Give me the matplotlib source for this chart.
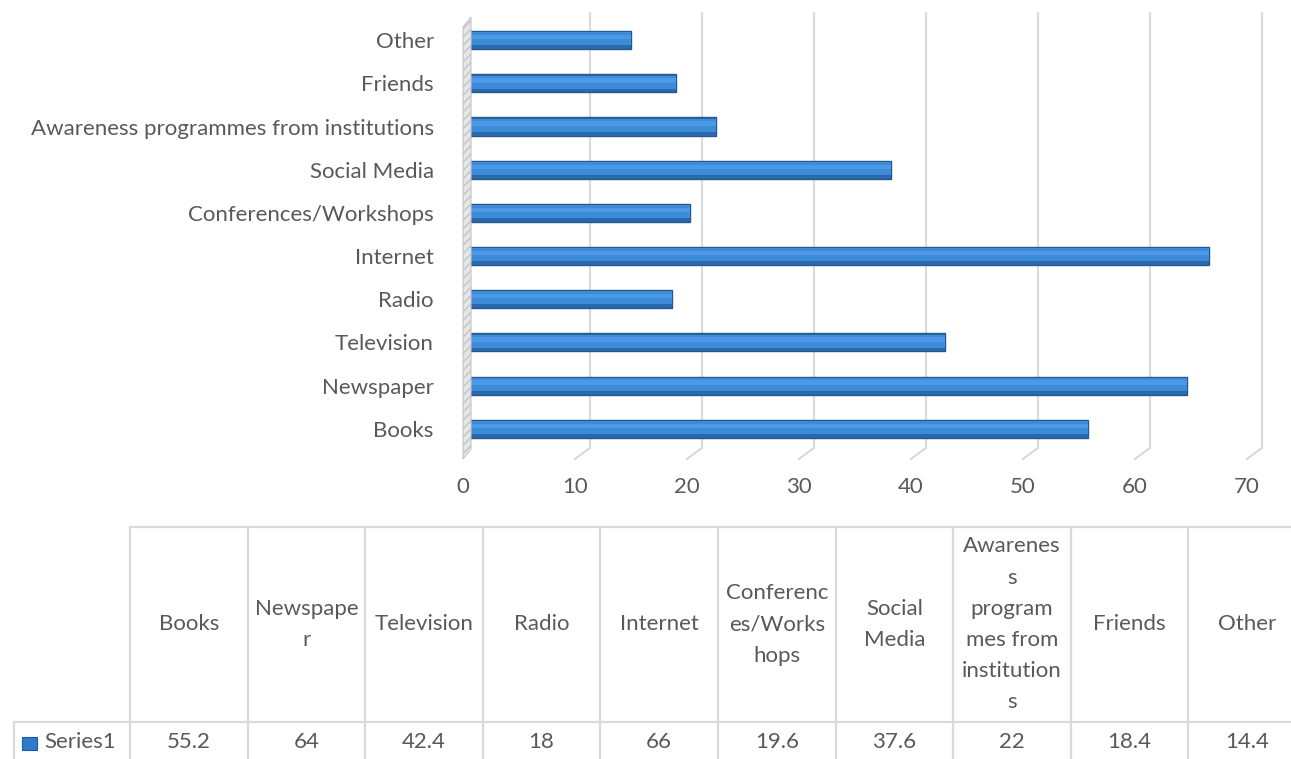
import matplotlib.pyplot as plt
import matplotlib.transforms as mtransforms
from matplotlib.patches import Rectangle, Polygon
from matplotlib.lines import Line2D

plt.rcParams['font.family'] = ['Lato', 'DejaVu Sans']

# data
categories = ["Books", "Newspaper", "Television", "Radio", "Internet",
              "Conferences/Workshops", "Social Media",
              "Awareness programmes from institutions", "Friends", "Other"]
values = [55.2, 64, 42.4, 18, 66, 19.6, 37.6, 22, 18.4, 14.4]
values_text = ["55.2", "64", "42.4", "18", "66", "19.6", "37.6", "22", "18.4", "14.4"]
table_headers = ["Books", "Newspape\nr", "Television", "Radio", "Internet",
                 "Conferenc\nes/Works\nhops", "Social\nMedia",
                 "Awarenes\ns\nprogram\nmes from\ninstitution\ns", "Friends", "Other"]
series_name = "Series1"
xticks = [0, 10, 20, 30, 40, 50, 60, 70]

W, H = 1291, 759
DPI = 100
fig = plt.figure(figsize=(W / DPI, H / DPI), dpi=DPI)
txt = "#595959"
grid_c = "#d9d9d9"
FS = 16


def fx(px):
    return px / W


def fy(py):
    return 1 - py / H


# chart area, pixel layout
x0_px, x70_px = 463, 1247
y_top_px, y_bot_px = 13, 459
ax = fig.add_axes([fx(x0_px), fy(y_bot_px), fx(x70_px - x0_px), (y_bot_px - y_top_px) / H])
ax.set_xlim(0, 70)
ax.set_ylim(-0.7, 9.63)
for s in ax.spines.values():
    s.set_visible(False)
ax.set_facecolor("none")

depth = 15 / DPI  # back plane offset in inches
back = ax.transData + mtransforms.ScaledTranslation(depth, 0, fig.dpi_scale_trans)
mid = ax.transData + mtransforms.ScaledTranslation(7 / DPI, 0, fig.dpi_scale_trans)

# back-wall gridlines with the little diagonal floor segments
for t in xticks:
    if t == 0:
        continue
    ax.add_line(Line2D([t, t], [0.025, 1.0], color=grid_c, lw=1.5, clip_on=False,
                       transform=mtransforms.blended_transform_factory(back, ax.transAxes)))
    p0 = ax.transData.transform((t, 0))
    p1 = back.transform((t, 0))
    y_lo = ax.transAxes.transform((0, 0.0))[1]
    y_hi = ax.transAxes.transform((0, 0.025))[1]
    fig.add_artist(Line2D([p0[0], p1[0]], [y_lo, y_hi], color=grid_c, lw=1.5,
                          transform=None))

# left wall
wall_l = ax.transData.transform((0, 0))[0]
ya = ax.transAxes.transform((0, 0.0))[1]
yb = ax.transAxes.transform((0, 1.0))[1]
wall = Polygon([(wall_l, ya), (wall_l + 8, ya + 10), (wall_l + 8, yb - 4), (wall_l, yb - 14)],
               closed=True, facecolor="#e6e6e6", edgecolor="#c4c4c4", lw=0.8,
               hatch="////", transform=None)
fig.add_artist(wall)

# bars: dark body + lighter face + top highlight
ypos = list(range(len(categories)))
ax.barh(ypos, values, height=0.42, color="#2a69ad", edgecolor="#23598f",
        linewidth=1, transform=mid, zorder=3)
ax.barh([y + 0.03 for y in ypos], values, height=0.3, color="#3d8bd9",
        linewidth=0, transform=mid, zorder=4)
ax.barh([y + 0.07 for y in ypos], values, height=0.1, color="#4c9ae6",
        linewidth=0, transform=mid, zorder=5)

ax.set_yticks(ypos)
ax.set_yticklabels(categories)
ax.set_xticks(xticks)
ax.set_xticklabels([str(t) for t in xticks])
ax.tick_params(axis="y", length=0, pad=21, labelsize=FS, labelcolor=txt)
ax.tick_params(axis="x", length=0, pad=13, labelsize=FS, labelcolor=txt)

# data table below the chart
col_l = 130
col_w = 117.6
row_top, row_mid, row_bot = 527, 722, 762
lw_t = 1.6
ncol = len(categories)
right = col_l + ncol * col_w
fig.add_artist(Line2D([fx(col_l), fx(right)], [fy(row_top)] * 2, color=grid_c, lw=lw_t))
fig.add_artist(Line2D([fx(14), fx(right)], [fy(row_mid)] * 2, color=grid_c, lw=lw_t))
fig.add_artist(Line2D([fx(14), fx(14)], [fy(row_mid), fy(row_bot)], color=grid_c, lw=lw_t))
for i in range(ncol + 1):
    x = col_l + i * col_w
    fig.add_artist(Line2D([fx(x), fx(x)], [fy(row_top), fy(row_bot)], color=grid_c, lw=lw_t))

for i in range(ncol):
    cx = col_l + (i + 0.5) * col_w
    fig.text(fx(cx), fy((row_top + row_mid) / 2), table_headers[i], ha="center", va="center",
             fontsize=FS, color=txt, linespacing=1.7)
    fig.text(fx(cx), fy(742), values_text[i], ha="center", va="center",
             fontsize=FS, color=txt)

# legend key
fig.add_artist(Rectangle((fx(22), fy(750)), fx(15), 13 / H, facecolor="#2f7ccc",
                         edgecolor="#1f5a99", lw=0.8))
fig.text(fx(44), fy(742), series_name, ha="left", va="center", fontsize=FS, color=txt)

fig.savefig("out.png", dpi=DPI)
